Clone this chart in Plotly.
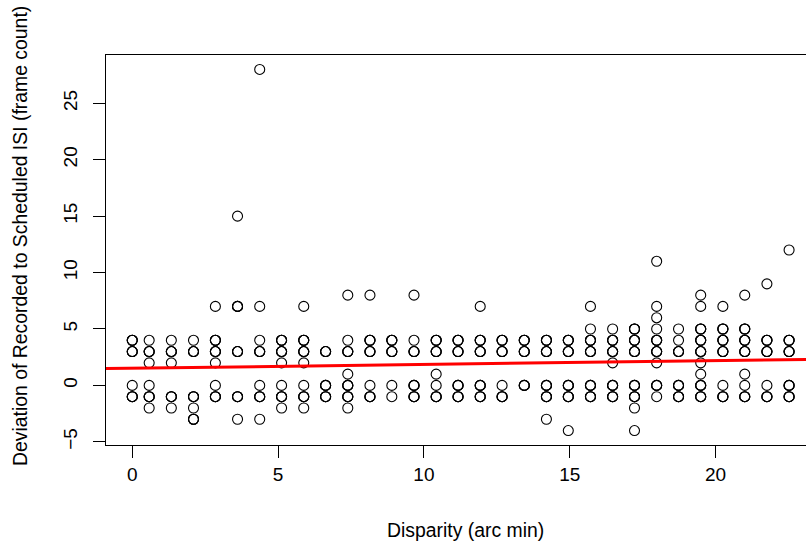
import plotly.graph_objects as go

# Disparity levels (arc min), one per column of points
disparity = [0.0, 0.58, 1.34, 2.10, 2.85, 3.61, 4.37, 5.12, 5.88, 6.63,
             7.39, 8.15, 8.90, 9.66, 10.42, 11.17, 11.93, 12.68, 13.44, 14.20,
             14.95, 15.71, 16.47, 17.22, 17.98, 18.73, 19.49, 20.25, 21.00, 21.76,
             22.52]

# Deviations observed once at each disparity level (frame count)
single_obs = [
    [0], [4, 2, 0, -2], [4, 2, -2], [4, -2], [7, 2, 0],
    [15, -3], [28, 7, 4, 0, -3], [2, 0, -2], [7, 2, 0, -2], [],
    [8, 4, 1, -2], [8, 0], [0, -1], [8, 4], [1, 0],
    [], [7], [0], [], [-3],
    [-4], [7, 5], [5, 2], [-2, -4], [11, 7, 6, 5, 2, -1],
    [5, 4], [8, 7, 2, 1], [7, 0], [8, 1, 0], [9, 0],
    [12],
]

# Deviations observed repeatedly (overplotted, darker circles)
repeated_obs = [
    [4, 3, -1], [3, -1], [3, -1], [3, -1, -3], [4, 3, -1],
    [7, 3, -1], [3, -1], [4, 3, -1], [4, 3, -1], [3, 0, -1],
    [3, 0, -1], [4, 3, -1], [4, 3], [3, 0, -1], [4, 3, -1],
    [4, 3, 0, -1], [4, 3, 0, -1], [4, 3, -1], [4, 3, 0], [4, 3, 0, -1],
    [4, 3, 0, -1], [4, 3, 0, -1], [4, 3, 0, -1], [5, 4, 3, 0, -1], [4, 3, 0],
    [3, 0, -1], [5, 4, 3, 0, -1], [5, 4, 3, -1], [5, 4, 3, -1], [4, 3, -1],
    [4, 3, 0, -1],
]
repeat_count = 3

# Fitted regression line
fit_intercept = 1.52
fit_slope = 0.034

x_ticks = [0, 5, 10, 15, 20]
y_ticks = [-5, 0, 5, 10, 15, 20, 25]

x_title = "Disparity (arc min)"
y_title = "Deviation of Recorded to Scheduled ISI (frame count)"

xs, ys = [], []
for d, singles, reps in zip(disparity, single_obs, repeated_obs):
    for v in singles:
        xs.append(d); ys.append(v)
    for v in reps:
        for _ in range(repeat_count):
            xs.append(d); ys.append(v)

x_range = [-0.9, 23.1]
y_range = [-5.28, 29.28]

font_family = "Liberation Sans, Arial, sans-serif"
title_font = dict(family=font_family, size=19.4, color="black")

fig = go.Figure()
fig.add_trace(go.Scatter(
    x=xs, y=ys, mode="markers",
    marker=dict(symbol="circle-open", size=10, color="black",
                line=dict(width=1.1, color="black")),
    hoverinfo="skip", showlegend=False,
))
line_x = [x_range[0] - 1, x_range[1] + 1]
fig.add_trace(go.Scatter(
    x=line_x, y=[fit_intercept + fit_slope * v for v in line_x],
    mode="lines", line=dict(color="#ff0000", width=3),
    hoverinfo="skip", showlegend=False,
))

axis_common = dict(
    showgrid=False, zeroline=False, showline=True, linecolor="black", linewidth=1,
    ticks="outside", ticklen=12, tickwidth=1, tickcolor="black", automargin=False,
    tickfont=dict(family=font_family, size=19, color="black"),
)

fig.update_layout(
    width=806, height=546,
    margin=dict(l=106, r=0, t=55, b=101),
    paper_bgcolor="white", plot_bgcolor="white",
    font=dict(family=font_family, size=19, color="black"),
    xaxis=dict(range=x_range, tickvals=x_ticks, mirror=True,
               ticklabelstandoff=0, **axis_common),
    yaxis=dict(range=y_range, tickvals=y_ticks, tickangle=-90,
               ticklabelstandoff=8, **axis_common),
    annotations=[
        dict(text=x_title, xref="paper", yref="paper", x=0.5, y=0,
             xanchor="center", yanchor="middle", xshift=9, yshift=-85,
             showarrow=False, font=title_font),
        dict(text=y_title, xref="paper", yref="paper", x=0, y=0.5,
             xanchor="center", yanchor="middle", xshift=-86, yshift=14,
             textangle=-90, showarrow=False, font=title_font),
    ],
)

fig.write_html("out.html", config={"displayModeBar": False},
               post_script="document.body.style.margin='0';document.body.style.overflow='hidden';")
